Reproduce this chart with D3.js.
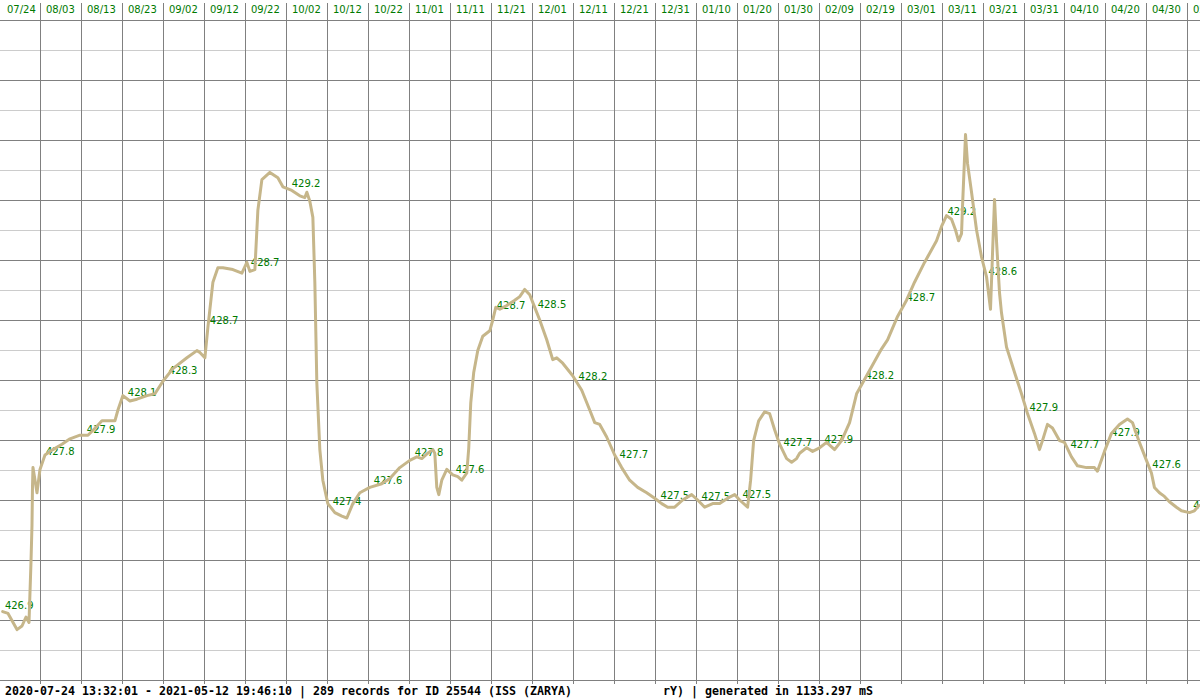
<!DOCTYPE html>
<html><head><meta charset="utf-8">
<script src="https://cdn.jsdelivr.net/npm/d3@7"></script>
<style>html,body{margin:0;padding:0;background:#fff;overflow:hidden}</style>
</head><body><svg id="c" width="1200" height="700"></svg>
<script>
// ---- data ----
const startDate = "2020-07-24";
const endDate = "2021-05-13";
const tickDates = ["2020-07-24","2020-08-03","2020-08-13","2020-08-23","2020-09-02","2020-09-12","2020-09-22",
  "2020-10-02","2020-10-12","2020-10-22","2020-11-01","2020-11-11","2020-11-21","2020-12-01","2020-12-11",
  "2020-12-21","2020-12-31","2021-01-10","2021-01-20","2021-01-30","2021-02-09","2021-02-19","2021-03-01",
  "2021-03-11","2021-03-21","2021-03-31","2021-04-10","2021-04-20","2021-04-30","2021-05-10"];
// days since 2020-07-24 00:00 UTC
const lineDays = [0.9,2.2,4.39,5.61,6.59,7.32,7.8,8.05,8.17,8.29,
  9.27,10.0,11.22,13.17,15.37,17.32,19.76,21.71,23.9,25.12,
  26.59,28.29,29.02,30.24,31.95,33.66,36.1,38.05,40.0,42.44,
  45.85,48.29,49.02,50.24,50.98,52.2,53.41,54.63,57.07,59.27,
  60.49,61.22,62.44,63.17,64.15,66.1,68.05,69.27,71.46,73.41,
  74.63,75.12,75.85,76.59,77.07,77.56,78.29,79.02,80.24,81.95,
  83.66,84.88,86.34,88.05,90.49,93.41,95.37,97.8,100.24,101.95,
  103.17,104.63,105.85,106.34,106.83,107.32,108.05,109.27,110.73,111.95,
  112.93,114.15,114.63,115.12,115.85,116.83,118.05,119.76,120.49,121.22,
  122.2,123.9,125.85,127.07,128.29,129.51,130.73,131.95,133.66,135.12,
  136.1,137.56,140.0,142.2,144.15,145.37,146.59,148.29,150.24,151.95,
  153.9,155.85,158.05,160.0,161.71,163.17,164.88,166.83,169.02,170.49,
  172.2,174.15,175.85,177.8,179.51,180.73,182.68,183.41,184.15,185.37,
  186.83,188.05,189.27,190.49,192.2,193.41,194.63,195.37,197.07,198.54,
  200.24,201.95,203.9,205.61,207.56,209.27,210.73,213.17,215.37,216.83,
  219.27,221.46,223.41,225.85,227.07,228.78,230.0,231.22,232.44,233.41,
  234.15,234.88,235.12,235.85,236.34,237.32,238.54,239.76,240.98,241.95,
  242.44,242.93,243.41,244.15,244.63,245.85,247.8,249.51,250.98,252.68,
  253.9,254.63,255.85,257.07,258.78,260.0,261.71,263.17,265.37,266.59,
  267.32,268.05,269.76,271.46,273.41,275.37,276.59,278.29,280.0,281.22,
  281.95,283.17,284.39,285.61,287.32,288.54,290.49,291.71,292.82];
// altitude, km
const lineAlt = [426.88,426.87,426.78,426.8,426.85,426.82,427.15,427.36,427.57,427.68,
  427.54,427.67,427.75,427.78,427.81,427.84,427.86,427.86,427.91,427.94,
  427.94,427.94,428.0,428.08,428.05,428.06,428.08,428.09,428.16,428.23,
  428.29,428.33,428.32,428.29,428.46,428.71,428.79,428.79,428.78,428.76,
  428.82,428.77,428.78,429.11,429.28,429.32,429.29,429.24,429.22,429.19,
  429.18,429.21,429.16,429.07,428.71,428.15,427.78,427.61,427.48,427.43,
  427.41,427.4,427.48,427.54,427.57,427.59,427.62,427.68,427.72,427.74,
  427.73,427.76,427.78,427.76,427.57,427.53,427.61,427.67,427.64,427.63,
  427.61,427.65,427.79,428.04,428.21,428.33,428.41,428.44,428.5,428.57,
  428.56,428.58,428.61,428.63,428.67,428.64,428.57,428.5,428.39,428.28,
  428.29,428.26,428.19,428.11,428.0,427.93,427.92,427.85,427.75,427.68,
  427.61,427.57,427.54,427.51,427.48,427.46,427.46,427.5,427.53,427.5,
  427.46,427.48,427.48,427.51,427.53,427.5,427.46,427.61,427.83,427.94,
  427.99,427.98,427.89,427.81,427.73,427.71,427.73,427.76,427.79,427.77,
  427.79,427.82,427.78,427.83,427.93,428.09,428.15,428.25,428.34,428.39,
  428.52,428.61,428.71,428.82,428.87,428.94,429.02,429.08,429.06,429.0,
  428.94,428.98,429.13,429.53,429.37,429.21,429.0,428.85,428.74,428.56,
  428.87,429.17,428.94,428.65,428.54,428.35,428.21,428.09,427.98,427.87,
  427.78,427.83,427.92,427.9,427.83,427.82,427.74,427.69,427.68,427.68,
  427.68,427.66,427.77,427.87,427.92,427.95,427.93,427.82,427.72,427.65,
  427.57,427.54,427.52,427.49,427.46,427.44,427.43,427.44,427.47];
// value labels, one every 10 days
const labelValues = [426.9,427.8,427.9,428.1,428.3,428.7,428.7,429.2,427.4,427.6,
  427.8,427.6,428.7,428.5,428.2,427.7,427.5,427.5,427.5,427.7,
  427.9,428.2,428.7,429.2,428.6,427.9,427.7,427.9,427.6,427.5];
const footerLeft = "2020-07-24 13:32:01 - 2021-05-12 19:46:10 | 289 records for ID 25544 (ISS (ZARYA)";
const footerMid = "rY)";
const footerRight = "| generated in 1133.297 mS";

// ---- scales ----
const parse = d3.utcParse("%Y-%m-%d");
const t0 = parse(startDate);
const dayToDate = d => new Date(t0.getTime() + d * 864e5);
const x = d3.scaleUtc().domain([t0, parse(endDate)]).range([-1, -1 + 293 * 4.098]);
const y = d3.scaleLinear().domain([426.5, 430.2]).range([680, 14]);

const svg = d3.select("#c");
svg.append("rect").attr("width", 1200).attr("height", 700).attr("fill", "#fff");

const DARK = "#808080", LIGHT = "#cccccc", GREEN = "#007a00", LINE = "#c6b68a";

// horizontal grid (every 1/6 km)
const gridVals = d3.range(0, 23).map(i => 426.5 + i / 6);
svg.append("g").selectAll("line").data(gridVals).join("line")
  .attr("x1", 0).attr("x2", 1200)
  .attr("y1", d => Math.round(y(d)) + 0.5).attr("y2", d => Math.round(y(d)) + 0.5)
  .attr("stroke", (d, i) => i % 2 === 0 ? DARK : LIGHT)
  .attr("stroke-width", 1);

// vertical grid
const ticks = tickDates.map(parse);
svg.append("g").selectAll("line").data(ticks).join("line")
  .attr("x1", d => Math.round(x(d)) + 0.5).attr("x2", d => Math.round(x(d)) + 0.5)
  .attr("y1", 3).attr("y2", 684)
  .attr("stroke", DARK).attr("stroke-width", 1);

// top date labels
const fmt = d3.utcFormat("%m/%d");
svg.append("g").selectAll("text").data(ticks).join("text")
  .attr("x", (d, i) => Math.round(x(d)) + (i === 0 ? 8 : 6)).attr("y", 13)
  .attr("fill", GREEN)
  .attr("font-family", "DejaVu Sans, Verdana, sans-serif").attr("font-size", "10px")
  .text(d => fmt(d));

// series
const data = lineDays.map((d, i) => ({date: dayToDate(d), day: d, v: lineAlt[i]}));

// value labels (drawn under the line)
const bis = d3.bisector(d => d.day).left;
function valueAt(day) {
  let i = bis(data, day);
  if (i <= 0) return data[0].v;
  if (i >= data.length) return data[data.length - 1].v;
  const a = data[i - 1], b = data[i];
  const t = (day - a.day) / (b.day - a.day);
  return a.v + (b.v - a.v) * t;
}
const labels = labelValues.map((v, k) => ({day: 10 * k + 1, v}));
svg.append("g").selectAll("text").data(labels).join("text")
  .attr("x", d => x(dayToDate(d.day)) + 1.8)
  .attr("y", d => y(valueAt(d.day)) - 2.5)
  .attr("fill", GREEN)
  .attr("font-family", "DejaVu Sans, Verdana, sans-serif").attr("font-size", "10px")
  .text(d => d.v.toFixed(1));

svg.append("path").datum(data)
  .attr("fill", "none").attr("stroke", LINE).attr("stroke-width", 3)
  .attr("stroke-linejoin", "round").attr("stroke-linecap", "round")
  .attr("d", d3.line().x(d => x(d.date)).y(d => y(d.v)));

// footer
const foot = svg.append("g")
  .attr("font-family", "DejaVu Sans Mono, Liberation Mono, monospace")
  .attr("font-size", "11.63px").attr("font-weight", "bold").attr("fill", "#000");
foot.append("text").attr("x", 5).attr("y", 695).text(footerLeft);
foot.append("text").attr("x", 663).attr("y", 695).text(footerMid);
foot.append("text").attr("x", 691).attr("y", 695).text(footerRight);
</script>
</body></html>
